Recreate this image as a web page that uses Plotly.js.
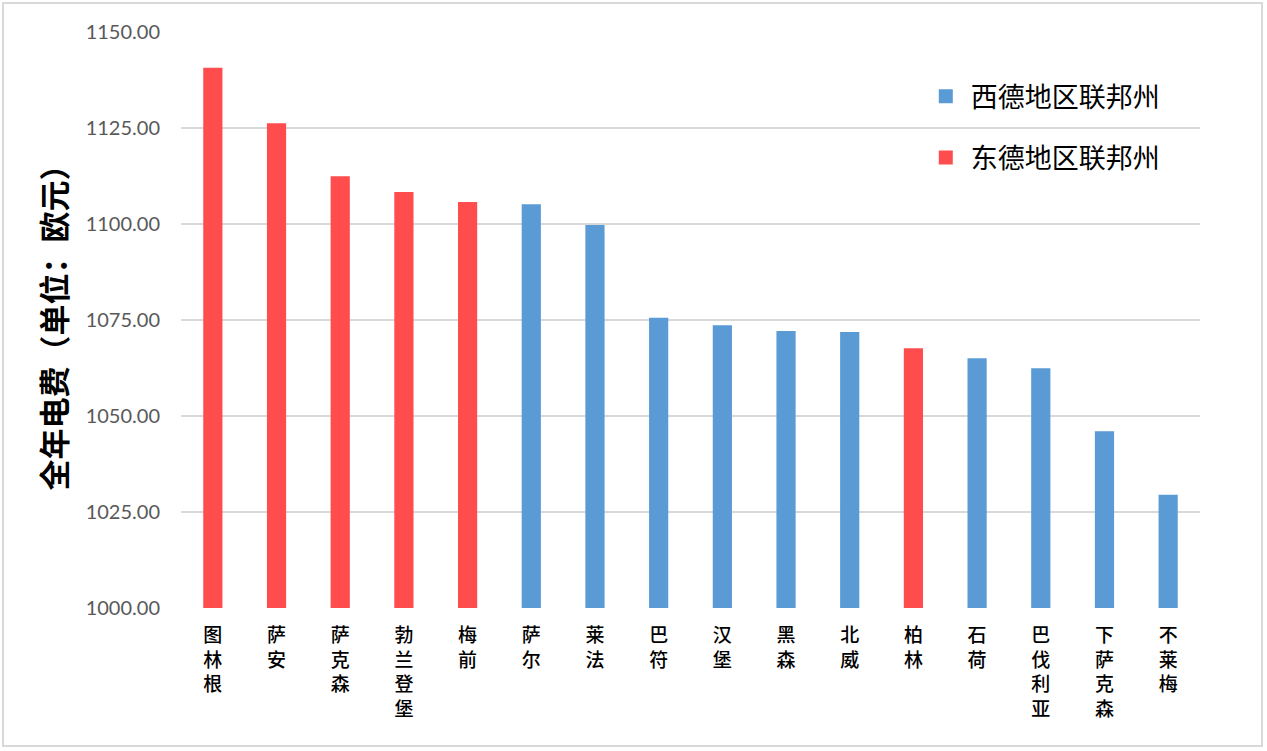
<!DOCTYPE html>
<html>
<head>
<meta charset="utf-8">
<script src="https://cdn.plot.ly/plotly-3.0.1.min.js"></script>
<style>
html,body{margin:0;padding:0;background:#fff;}
#wrap{position:absolute;left:2px;top:2px;width:1261px;height:745px;border:2px solid #d9d9d9;box-sizing:border-box;}
#chart{position:absolute;left:0;top:0;width:1267px;height:751px;}
</style>
</head>
<body>
<div id="wrap"></div>
<div id="chart"></div>
<script>
const categories = ["图林根","萨安","萨克森","勃兰登堡","梅前","萨尔","莱法","巴符","汉堡","黑森","北威","柏林","石荷","巴伐利亚","下萨克森","不莱梅"];
const values = [1140.4, 1126.0, 1112.2, 1108.1, 1105.5, 1104.9, 1099.5, 1075.3, 1073.4, 1071.9, 1071.6, 1067.4, 1064.8, 1062.2, 1045.8, 1029.2];
const region = ["东","东","东","东","东","西","西","西","西","西","西","东","西","西","西","西"];
const seriesNames = {西: "西德地区联邦州", 东: "东德地区联邦州"};
const yTicks = [1000, 1025, 1050, 1075, 1100, 1125, 1150];

const tickText = categories.map(c => c.split('').join('<br>'));
const westVals = values.map((v, i) => region[i] === "西" ? v : null);
const eastVals = values.map((v, i) => region[i] === "东" ? v : null);

const traces = [
  {type: 'bar', x: categories, y: westVals, name: seriesNames["西"], marker: {color: '#5B9BD5', line: {color: '#5B9BD5', width: 2}}, width: 0.27, legendgroup: 'w', hoverinfo: 'x+y'},
  {type: 'bar', x: categories, y: eastVals, name: seriesNames["东"], marker: {color: '#FF4D4D', line: {color: '#FF4D4D', width: 2}}, width: 0.27, legendgroup: 'e', hoverinfo: 'x+y'}
];

const layout = {
  width: 1267, height: 751,
  margin: {l: 181, r: 67, t: 32, b: 143},
  paper_bgcolor: 'rgba(0,0,0,0)', plot_bgcolor: 'rgba(0,0,0,0)',
  barmode: 'overlay',
  showlegend: true,
  legend: {
    x: 0.726, y: 0.93, xanchor: 'left', yanchor: 'top',
    font: {family: 'Noto Sans CJK SC', size: 27, color: '#000'},
    traceorder: 'grouped', tracegroupgap: 23,
    bgcolor: 'rgba(0,0,0,0)', itemwidth: 40
  },
  xaxis: {
    type: 'category',
    tickmode: 'array', tickvals: categories, ticktext: tickText,
    tickfont: {family: 'Noto Sans CJK SC', size: 19, color: '#000', weight: 500},
    showgrid: false, showline: false, zeroline: false, ticks: '',
    ticklabelstandoff: 14, fixedrange: true
  },
  yaxis: {
    range: [1000, 1150], tickmode: 'array', tickvals: yTicks,
    ticktext: yTicks.map(v => v.toFixed(2)),
    tickfont: {family: 'Lato, Carlito, sans-serif', size: 20, color: '#595959'},
    showgrid: true, gridcolor: '#d9d9d9', gridwidth: 1.5,
    zeroline: false, showline: false, ticks: '',
    ticklabelstandoff: 20,
    title: {text: '全年电费（单位：欧元）', font: {family: 'Noto Sans CJK SC', size: 31, color: '#000', weight: 600}, standoff: 9},
    fixedrange: true
  }
};

Plotly.newPlot('chart', traces, layout, {displayModeBar: false, staticPlot: true});
</script>
</body>
</html>
